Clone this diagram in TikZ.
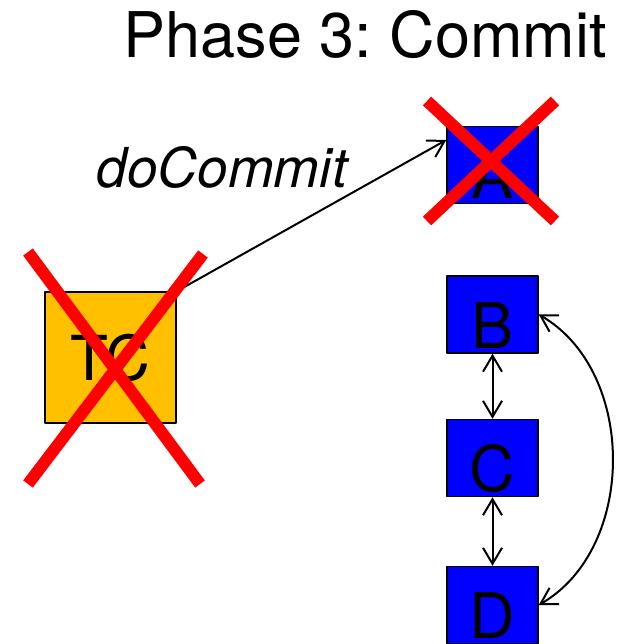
\documentclass[tikz,border=0pt]{standalone}
\usepackage{fontspec}
\setmainfont{TeX Gyre Heros}
\frenchspacing
\usetikzlibrary{arrows.meta}
\definecolor{tcorange}{RGB}{255,192,0}

\begin{document}
\begin{tikzpicture}[line join=round,>={Straight Barb[length=16pt,width=19pt]},x=1pt,y=-1pt,font=\fontsize{63}{70}\selectfont]
	\useasboundingbox (0,0) rectangle (621,644);
	\clip (0,0) rectangle (621,644);
	\tikzset{proc/.style={draw=black,line width=1.5pt,fill=blue,minimum width=91pt,minimum height=77pt,inner sep=0pt,text height=72pt,text depth=5pt},
		cross/.style={draw=red,line width=12pt,line cap=butt},
		link/.style={line width=2pt}}
	\node[anchor=base] (title) at (365,58) {\fontsize{63}{70}\selectfont Phase 3: Commit};
	\node[draw=black,line width=1.5pt,fill=tcorange,minimum size=131pt,inner sep=0pt,font=\fontsize{62}{70}\selectfont] (TC) at (110.5,357.5) {TC};
	\node[proc] (A) at (492.5,165) {A};
	\node[proc] (B) at (492.5,314.5) {B};
	\node[proc] (C) at (492.5,458) {C};
	\node[proc] (D) at (492.5,605) {D};
	\draw[link,->] (TC.north east) -- ([yshift=25pt]A.west);
	\node[anchor=base,font=\fontsize{55}{60}\selectfont\itshape] (docommit) at (222,188) {doCommit};
	\draw[link,<->] (B) -- (C);
	\draw[link,<->] (C) -- (D);
	\draw[link,<->] (B.east) to[bend left=60] (D.east);
	% crossed out
	\draw[cross] (28,252) -- (200,484) (203,254) -- (28,484);
	\draw[cross] (427,101) -- (555,221) (555,101) -- (427,221);
\end{tikzpicture}
\end{document}
